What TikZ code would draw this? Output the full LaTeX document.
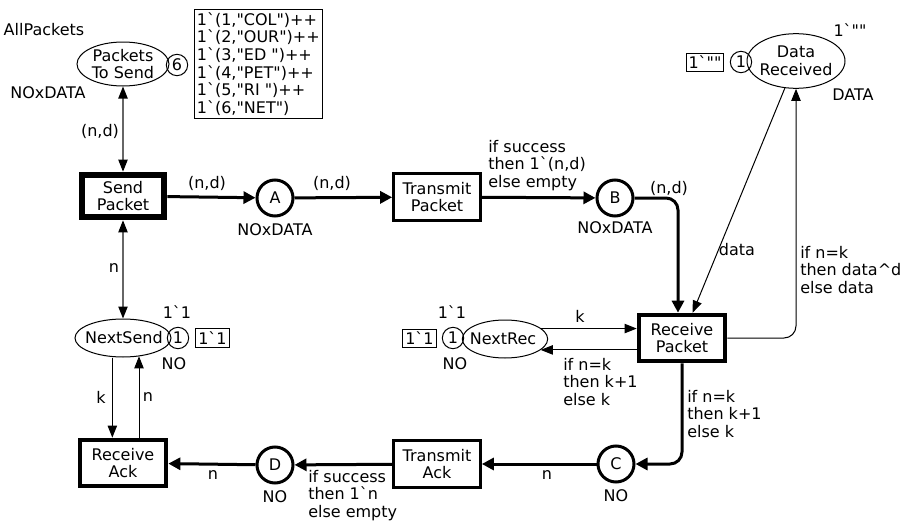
\documentclass[tikz,border=0pt]{standalone}
\usepackage{fontspec}
\setmainfont{DejaVu Sans}[Ligatures=TeXOff]
\usetikzlibrary{positioning,arrows.meta,shapes.geometric}
\tikzset{
  place/.style={ellipse,draw,line width=0.75pt,inner sep=0pt},
  port/.style={circle,draw,line width=2.25pt,minimum size=27pt,inner sep=0pt},
  trans/.style={rectangle,draw,line width=2.25pt,minimum width=65pt,minimum height=35pt,
    align=center,inner sep=0pt},
  token/.style={circle,draw,line width=0.75pt,minimum size=16pt,inner sep=0pt},
  mkbox/.style={rectangle,draw,line width=0.75pt,inner xsep=1.8pt,inner ysep=2.2pt,align=left},
  arc/.style={line width=0.75pt,-{Triangle[length=9pt,width=7pt]}},
  tarc/.style={line width=2.25pt,-{Triangle[length=9pt,width=9pt]}},   % thick arc
  darc/.style={line width=0.9pt,black!60,
    {Triangle[length=9pt,width=7pt,color=black]}-{Triangle[length=9pt,width=7pt,color=black]}},
  lbl/.style={inner sep=0pt,align=left},
}

\begin{document}
\begin{tikzpicture}[x=0.75pt,y=-0.75pt,font=\fontsize{12}{13.2}\selectfont]
  \useasboundingbox (0,0) rectangle (901,521);
  % ---- places ----
  \node[place,minimum width=69pt,minimum height=33pt] (pts) at (123,64) {};
  \node[lbl,align=center] (ptsT) at (pts) {Packets\\To Send};
  \node[place,minimum width=73.5pt,minimum height=41pt] (dr) at (796,61) {};
  \node[lbl,align=center] (drT) at (dr) {Data\\Received};
  \node[place,minimum width=72pt,minimum height=28.5pt] (ns) at (123,338) {};
  \node[lbl] (nsT) at (124,338) {NextSend};
  \node[place,minimum width=64pt,minimum height=28.5pt] (nr) at (505,339) {};
  \node[lbl] (nrT) at (503,339) {NextRec};
  \node[port] (pA) at (275,198) {A};
  \node[port] (pB) at (615,198) {B};
  \node[port] (pC) at (616,464) {C};
  \node[port] (pD) at (275,465) {D};
  % ---- transitions ----
  \node[trans,line width=4.5pt,minimum width=62pt,minimum height=32pt] (sp) at (123,196) {Send\\Packet};
  \node[trans] (tp) at (437,197) {Transmit\\Packet};
  \node[trans,line width=3pt] (rp) at (682,338) {Receive\\Packet};
  \node[trans] (ta) at (437,464) {Transmit\\Ack};
  \node[trans,line width=3pt] (ra) at (123,463) {Receive\\Ack};
  % ---- markings ----
  \node[token] (tkPts) at (177,65) {6};
  \node[token] (tkDr) at (741,62) {1};
  \node[token] (tkNs) at (178,338) {1};
  \node[token] (tkNr) at (453,338) {1};
  \node[mkbox,anchor=north west] (mkPts) at (194,9)
    {1`(1,"COL")++\\1`(2,"OUR")++\\1`(3,"ED ")++\\1`(4,"PET")++\\1`(5,"RI ")++\\1`(6,"NET")};
  \node[mkbox] (mkDr) at (705,62.5) {1`""};
  \node[mkbox] (mkNs) at (212.5,338) {1`1};
  \node[mkbox] (mkNr) at (419.5,338.5) {1`1};
  % ---- colour sets and initial markings ----
  \node[lbl] (imPts) at (44,30) {AllPackets};
  \node[lbl] (csPts) at (48,93) {NOxDATA};
  \node[lbl] (imDr) at (850,30) {1`""};
  \node[lbl] (csDr) at (853,95) {DATA};
  \node[lbl] (imNs) at (177,312) {1`1};
  \node[lbl] (csNs) at (174,364) {NO};
  \node[lbl] (imNr) at (452,312) {1`1};
  \node[lbl] (csNr) at (455,364) {NO};
  \node[lbl] (csA) at (275,230) {NOxDATA};
  \node[lbl] (csB) at (615,228) {NOxDATA};
  \node[lbl] (csC) at (616,496) {NO};
  \node[lbl] (csD) at (275,497) {NO};
  % ---- arcs ----
  \draw[darc] (pts) -- (sp);
  \draw[darc] (sp) -- (ns);
  \draw[tarc] (sp) -- (pA);
  \draw[tarc] (pA) -- (tp);
  \draw[tarc] (tp) -- (pB);
  \draw[tarc,rounded corners=9pt] (pB) -| ([xshift=-3pt]rp.north);
  \draw[arc] (dr) -- ([xshift=8pt]rp.north);
  \draw[arc,rounded corners=9pt] (rp) -| (dr);
  \draw[arc] (nr.16) -- (nr.16 -| rp.west);
  \draw[arc] (rp.west |- nr.-17) -- (nr.-17);
  \draw[tarc,rounded corners=9pt] (rp) |- (pC);
  \draw[tarc] (pC) -- (ta);
  \draw[tarc] (ta) -- (pD);
  \draw[tarc] (pD) -- (ra);
  \draw[arc] ([xshift=-8pt]ns.south) -- ([xshift=-8pt]ns.south |- ra.north);
  \draw[arc] ([xshift=12pt]ns.south |- ra.north) -- ([xshift=12pt,yshift=0.9pt]ns.south);
  % ---- arc inscriptions ----
  \node[lbl] (iPts) at (100,131) {(n,d)};
  \node[lbl] (iNsSp) at (114,268) {n};
  \node[lbl] (iNsRa) at (101,397) {k};
  \node[lbl] (iRaNs) at (148,397) {n};
  \node[lbl] (iSpA) at (207,183) {(n,d)};
  \node[lbl] (iATp) at (332,183) {(n,d)};
  \node[lbl,anchor=west] (iTpB) at (488,165.5) {if success\\then 1`(n,d)\\else empty};
  \node[lbl] (iBRp) at (669,188) {(n,d)};
  \node[lbl] (iDrRp) at (737,250) {data};
  \node[lbl,anchor=west] (iRpDr) at (800,270) {if n=k\\then data\textasciicircum d\\else data};
  \node[lbl] (iNrRp) at (580,316) {k};
  \node[lbl,anchor=west] (iRpNr) at (563,382) {if n=k\\then k+1\\else k};
  \node[lbl,anchor=west] (iRpC) at (687,414) {if n=k\\then k+1\\else k};
  \node[lbl] (iCTa) at (547,475) {n};
  \node[lbl,anchor=west] (iTaD) at (308,495.5) {if success\\then 1`n\\else empty};
  \node[lbl] (iDRa) at (213,475) {n};
\end{tikzpicture}
\end{document}
